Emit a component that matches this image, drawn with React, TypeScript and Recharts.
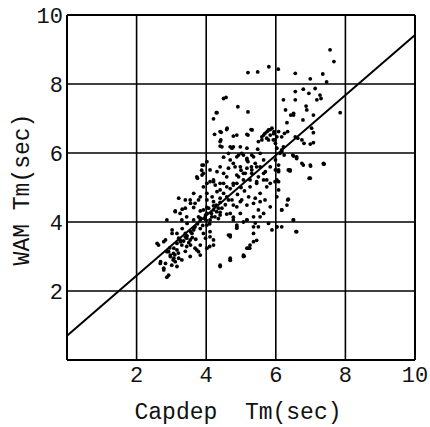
import React from 'react';
import { ScatterChart, Scatter, XAxis, YAxis, CartesianGrid, ReferenceLine, Label } from 'recharts';

const axisTicks = [0, 2, 4, 6, 8, 10];
const xAxisTitle = 'Capdep\u00A0\u00A0Tm(sec)';
const yAxisTitle = 'WAM\u00A0Tm(sec)';
const fitStart = { x: 0, y: 0.7 };
const fitEnd = { x: 10, y: 9.42 };

// [Capdep Tm, WAM Tm]
const upperPoints: [number, number][] = [
  [7.56, 8.99], [7.67, 8.65], [5.2, 8.33], [5.48, 8.35], [5.8, 8.5], [6.07, 8.43], [6.56, 8.31],
  [6.99, 8.15], [7.35, 8.29], [7.46, 8.06], [4.57, 7.61], [4.5, 7.58], [4.31, 7.17], [4.91, 7.34],
  [5.2, 7.19], [4.21, 6.99], [4.24, 6.54], [4.43, 6.6], [4.6, 6.72], [4.78, 6.49], [5.2, 6.52],
  [5.32, 6.67], [6.22, 7.54], [6.28, 7.25], [6.51, 7.15], [6.56, 7.78], [6.56, 7.54], [6.79, 7.85],
  [6.95, 7.73], [7.13, 7.87], [7.18, 7.54], [7.3, 7.58], [7.27, 7.68], [6.87, 7.36], [6.89, 7.25],
  [7.08, 7.1], [6.78, 6.96], [6.32, 6.88], [6.43, 7.1], [6.51, 7.1], [7.85, 7.17], [7.08, 6.59],
  [7.03, 6.72], [6.75, 6.38], [6.81, 6.28], [6.63, 6.43], [6.56, 6.47], [6.99, 6.26], [7.08, 6.3],
  [6.34, 6.62], [6.25, 6.57], [6.17, 6.47], [6.08, 6.62], [6.22, 6.18], [6.49, 5.94], [6.6, 5.89],
  [6.75, 5.7], [6.99, 5.65], [7.37, 5.7], [6.99, 5.27], [6.36, 5.51], [6.12, 5.99],
];

const ridgePoints: [number, number][] = [
  [5.69, 6.57], [5.79, 6.67], [5.89, 6.72], [5.95, 6.62], [5.84, 6.52], [5.74, 6.43], [5.93, 6.38],
  [5.6, 6.47], [5.5, 6.33], [6.03, 6.47], [5.99, 6.28], [4.29, 7.17], [4.4, 6.62], [4.59, 6.68],
  [4.88, 6.52], [5.29, 6.68], [5.17, 6.54], [4.42, 6.38], [4.4, 6.2], [4.69, 6.18], [4.5, 5.88],
  [4.64, 5.99], [4.74, 6.14], [4.93, 5.94], [5.02, 5.99], [5.17, 5.84], [5.31, 5.94], [5.48, 6.11],
  [5.6, 6.38], [5.65, 6.52], [5.75, 6.62], [5.84, 6.68], [5.94, 6.56], [5.79, 6.38], [5.98, 6.38],
  [6.03, 6.14], [6.17, 6.09], [6.24, 5.94], [6.51, 5.91], [6.6, 5.84], [6.79, 5.65], [7.37, 5.68],
  [6.96, 5.27], [6.41, 5.51], [6.08, 5.65], [6.08, 5.46], [5.7, 5.46], [5.55, 5.6], [5.41, 5.7],
  [5.17, 5.56], [4.98, 5.6], [4.78, 5.7], [4.64, 5.56], [4.4, 5.6], [4.31, 5.46], [4.5, 5.41],
  [4.88, 5.36], [5.07, 5.41], [5.31, 5.41], [5.5, 5.31], [5.65, 5.22], [5.84, 5.12], [6.03, 5.22],
  [4.78, 5.12], [4.5, 5.12], [4.21, 5.22], [3.92, 5.65], [3.92, 5.41], [3.73, 5.31], [3.92, 5.02],
  [4.45, 6.18], [4.4, 6.33], [4.78, 6.18], [4.98, 6.18], [5.17, 6.14], [5.07, 5.94], [4.88, 5.89],
  [4.69, 5.8], [4.83, 5.6], [5.17, 5.8], [5.36, 5.89], [5.55, 5.99], [5.65, 5.8], [5.45, 5.6],
  [5.31, 5.51], [5.65, 5.41], [5.84, 5.6], [5.74, 5.22], [4.02, 5.75], [3.87, 5.5],
];

const corePoints: [number, number][] = [
  [3.88, 5.65], [3.88, 5.36], [3.75, 5.27], [4.11, 5.51], [4.02, 5.12], [4.21, 5.17], [4.4, 5.12],
  [4.59, 5.31], [4.69, 4.97], [4.88, 5.12], [5.07, 5.22], [5.26, 5.02], [5.45, 5.17], [4.5, 4.83],
  [4.31, 4.88], [4.17, 4.73], [4.02, 4.64], [3.78, 4.64], [3.64, 4.83], [3.55, 4.54], [3.4, 4.64],
  [3.21, 4.69], [3.11, 4.32], [3.31, 4.37], [3.64, 4.42], [3.83, 4.32], [4.02, 4.42], [4.21, 4.47],
  [4.4, 4.57], [4.64, 4.64], [4.78, 4.49], [4.98, 4.59], [5.17, 4.49], [5.36, 4.54], [4.4, 4.28],
  [4.59, 4.23], [4.78, 4.14], [4.88, 3.91], [5.17, 4.06], [5.36, 3.86], [5.45, 3.47], [5.26, 3.33],
  [5.17, 3.24], [5.07, 3.04], [4.69, 2.95], [4.4, 2.75], [4.64, 3.62], [4.21, 3.33], [3.78, 3.14],
  [3.55, 3.72], [3.4, 3.57], [3.26, 3.43], [3.16, 3.19], [2.97, 3.04], [2.83, 2.8], [2.92, 2.46],
  [2.78, 2.66], [2.69, 2.85], [2.59, 3.38], [2.83, 3.48], [3.02, 3.77], [3.02, 3.67], [3.16, 3.67],
  [3.31, 3.81], [3.45, 3.96], [3.64, 4.06], [3.83, 4.11], [3.98, 4.2], [4.11, 4.06], [3.64, 3.81],
  [3.83, 3.81], [4.02, 3.91], [4.11, 3.72], [3.55, 3.33], [2.92, 3.14], [3.07, 3.24], [3.21, 2.95],
  [3.07, 2.95], [3.98, 3.53], [3.21, 3.53],
];

const densePoints: [number, number][] = [
  [3.25, 3.48], [3.44, 3.53], [3.59, 3.67], [3.68, 3.86], [3.83, 4.06], [4.02, 4.25], [4.21, 4.35],
  [4.35, 4.4], [4.29, 4.49], [4.4, 4.2], [4.16, 4.15], [3.92, 3.67], [4.11, 3.57], [4.21, 3.48],
  [4.1, 3.29], [3.83, 3.33], [3.73, 3.19], [3.44, 3.29], [3.3, 3.33], [3.16, 3.38], [3.06, 3.09],
  [2.97, 3.0], [2.87, 3.14], [3.11, 2.85], [3.01, 2.75], [3.16, 2.71], [3.3, 2.9], [3.54, 3.0],
  [3.68, 3.24], [3.83, 3.04], [3.4, 3.67], [3.54, 3.48], [3.64, 3.77], [3.78, 4.15], [3.92, 4.35],
  [4.07, 4.4], [4.21, 4.59], [4.4, 4.69], [4.59, 4.73], [4.74, 4.64], [4.88, 4.44], [4.98, 4.25],
  [4.69, 4.25], [4.78, 4.06], [5.02, 4.64], [5.22, 4.73], [5.41, 4.69], [5.55, 4.83], [5.69, 4.64],
  [5.84, 4.44], [5.74, 5.02], [5.45, 5.12], [5.26, 5.22], [5.12, 5.41], [4.93, 5.31], [4.78, 5.07],
  [4.59, 5.02], [4.4, 4.93], [4.26, 5.07], [4.11, 5.17], [4.02, 4.83], [3.83, 4.73], [3.68, 4.54],
  [3.54, 4.64], [3.4, 4.4], [3.25, 4.25], [3.11, 4.3], [3.3, 4.06], [3.44, 4.15], [2.87, 4.06],
  [2.63, 3.33], [2.78, 3.43], [2.68, 2.8], [2.78, 2.61], [2.87, 2.4],
  [3.35, 3.45], [3.5, 3.4], [3.6, 3.55], [3.7, 3.5], [3.45, 3.6], [3.9, 3.9], [4.0, 4.05],
  [4.15, 4.25], [4.3, 4.3], [4.25, 4.15], [4.35, 4.1], [3.75, 3.95], [3.95, 4.1], [4.1, 3.95],
  [3.05, 2.9], [3.1, 3.05], [3.2, 3.1], [2.95, 3.25], [3.4, 3.15], [4.45, 4.4], [4.55, 4.5],
  [4.9, 4.8], [5.0, 5.0], [5.1, 4.9], [5.3, 5.6], [5.2, 5.75], [5.0, 5.5],
];

const lowerPoints: [number, number][] = [
  [5.36, 3.67], [5.5, 3.86], [5.22, 3.24], [5.07, 3.0], [4.69, 2.9], [4.4, 2.71], [4.69, 3.57],
  [4.88, 3.82], [5.17, 4.06], [5.36, 4.15], [5.65, 4.25], [5.79, 3.96], [6.03, 3.86], [6.17, 3.86],
  [6.51, 4.06], [6.58, 3.72], [6.17, 4.35], [6.32, 4.49], [6.36, 4.66], [6.03, 4.73], [5.98, 5.17],
  [5.99, 5.51], [5.99, 5.8], [6.17, 6.04], [6.39, 5.49], [7.0, 5.62], [7.39, 5.68], [6.41, 5.48],
  [6.08, 5.17], [6.17, 4.35], [6.34, 4.64], [6.5, 4.06], [6.6, 3.72], [6.03, 3.86], [5.89, 3.77],
  [5.55, 4.15], [5.41, 3.97], [5.36, 3.43], [5.25, 3.24], [5.09, 3.01], [4.69, 2.89], [4.69, 3.62],
  [4.88, 3.86], [5.07, 4.0], [4.02, 3.24], [5.55, 4.59], [5.5, 4.35], [6.08, 5.51], [6.08, 4.93],
];

const allPoints = [...upperPoints, ...ridgePoints, ...corePoints, ...densePoints, ...lowerPoints];
const scatterData = allPoints.map(([capdep, wam]) => ({ capdep, wam }));

const FONT = '"Liberation Mono", "Courier New", monospace';
const INK = '#111';

const XTick = (props: any) => {
  const { x, y, payload } = props;
  if (payload.value === 0) return null;
  return (
    <text x={x} y={y} dy="0.71em" textAnchor="middle" fontFamily={FONT} fontSize={22} fill={INK}>
      {payload.value}
    </text>
  );
};

const YTick = (props: any) => {
  const { x, y, payload } = props;
  if (payload.value === 0) return null;
  return (
    <text x={x} y={y} dy="0.36em" textAnchor="end" fontFamily={FONT} fontSize={22} fill={INK}>
      {payload.value}
    </text>
  );
};

const Dot = (props: any) => {
  const { cx, cy } = props;
  if (cx == null || cy == null) return null;
  return <circle cx={cx} cy={cy} r={1.9} fill="#000" />;
};

export default function App() {
  return (
    <div style={{ position: 'absolute', left: 0, top: 0, width: 430, height: 427, background: '#fff' }}>
      <ScatterChart width={430} height={427} margin={{ top: 15, right: 15, bottom: 0, left: 0 }}>
        <CartesianGrid stroke="#000" strokeWidth={1.6} strokeDasharray="" />
        <XAxis
          type="number"
          dataKey="capdep"
          domain={[0, 10]}
          ticks={axisTicks}
          height={67}
          tickSize={6}
          tickMargin={0}
          tickLine={false}
          axisLine={{ stroke: '#000', strokeWidth: 2 }}
          tick={<XTick />}
          allowDataOverflow
        >
          <Label
            content={(p: any) => {
              const vb = p.viewBox;
              return (
                <text
                  x={vb.x + vb.width / 2 - 3}
                  y={vb.y + 59}
                  textAnchor="middle"
                  fontFamily={FONT}
                  fontSize={23}
                  fill={INK}
                >
                  {xAxisTitle}
                </text>
              );
            }}
          />
        </XAxis>
        <YAxis
          type="number"
          dataKey="wam"
          domain={[0, 10]}
          ticks={axisTicks}
          width={67}
          tickSize={4}
          tickMargin={0}
          tickLine={false}
          axisLine={{ stroke: '#000', strokeWidth: 2 }}
          tick={<YTick />}
          allowDataOverflow
        >
          <Label
            content={(p: any) => {
              const vb = p.viewBox;
              const cx = vb.x + 29;
              const cy = vb.y + vb.height / 2 + 2;
              return (
                <text
                  x={cx}
                  y={cy}
                  transform={`rotate(-90 ${cx} ${cy})`}
                  textAnchor="middle"
                  fontFamily={FONT}
                  fontSize={23}
                  fill={INK}
                >
                  {yAxisTitle}
                </text>
              );
            }}
          />
        </YAxis>
        <ReferenceLine x={10} stroke="#000" strokeWidth={2} />
        <ReferenceLine y={10} stroke="#000" strokeWidth={2} />
        <Scatter data={scatterData} fill="#000" shape={<Dot />} isAnimationActive={false} />
        <ReferenceLine segment={[fitStart, fitEnd]} stroke="#000" strokeWidth={2} />
      </ScatterChart>
    </div>
  );
}
